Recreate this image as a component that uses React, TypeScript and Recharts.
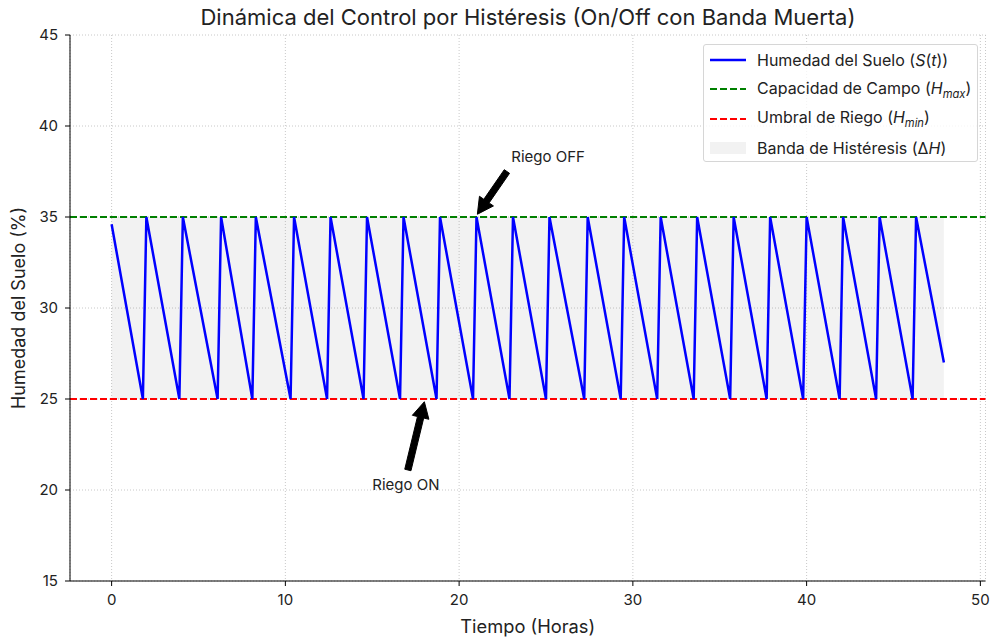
import {
  ComposedChart,
  Line,
  XAxis,
  YAxis,
  CartesianGrid,
  ReferenceLine,
  ReferenceArea,
  ReferenceDot,
} from 'recharts';

// vertices of the soil moisture sawtooth (hours, %)
const tiempo = [
  0, 1.8, 2.0, 3.9, 4.1, 6.1, 6.3, 8.1, 8.3, 10.3, 10.5, 12.4, 12.6, 14.5, 14.7,
  16.6, 16.8, 18.7, 18.9, 20.8, 21.0, 22.9, 23.1, 25.0, 25.2, 27.2, 27.4, 29.3,
  29.5, 31.4, 31.6, 33.5, 33.7, 35.6, 35.8, 37.7, 37.9, 39.8, 40.0, 41.9, 42.1,
  44.0, 44.2, 46.1, 46.3, 47.9,
];
const humedad = [
  34.6, 25, 35, 25, 35, 25, 35, 25, 35, 25, 35, 25, 35, 25, 35,
  25, 35, 25, 35, 25, 35, 25, 35, 25, 35, 25, 35, 25,
  35, 25, 35, 25, 35, 25, 35, 25, 35, 25, 35, 25, 35,
  25, 35, 25, 35, 27.0,
];

const H_MAX = 35;
const H_MIN = 25;
const T_END = 47.9;

const xTicks = [0, 10, 20, 30, 40, 50];
const yTicks = [15, 20, 25, 30, 35, 40, 45];

// annotations: text anchor and arrow [tail, tip] in data coords
const textoOff = { x: 23, y: 38, text: 'Riego OFF' };
const textoOn = { x: 15, y: 20, text: 'Riego ON' };
const flechaOff = [{ x: 22.75, y: 37.5 }, { x: 21.05, y: 35.15 }];
const flechaOn = [{ x: 17.05, y: 21.1 }, { x: 18.0, y: 24.85 }];

const data = tiempo.map((t, i) => ({ t, s: humedad[i] }));

const FONT = 'Inter, "Noto Sans", sans-serif';
const TXT = '#222';

const Arrow = (props: any) => {
  const { x1, y1, x2, y2 } = props;
  const dx = x2 - x1;
  const dy = y2 - y1;
  const len = Math.sqrt(dx * dx + dy * dy);
  const ux = dx / len;
  const uy = dy / len;
  const px = -uy;
  const py = ux;
  const shaft = 3.2;
  const head = 8.5;
  const headLen = 16;
  const bx = x2 - ux * headLen;
  const by = y2 - uy * headLen;
  const pts = [
    [x1 + px * shaft, y1 + py * shaft],
    [bx + px * shaft, by + py * shaft],
    [bx + px * head, by + py * head],
    [x2, y2],
    [bx - px * head, by - py * head],
    [bx - px * shaft, by - py * shaft],
    [x1 - px * shaft, y1 - py * shaft],
  ]
    .map((p) => p.join(','))
    .join(' ');
  return <polygon points={pts} fill="#000" stroke="#000" strokeWidth={1} />;
};

const noteShape = (text: string) => (p: any) => (
  <text x={p.cx} y={p.cy} fill={TXT} fontSize={15} fontFamily={FONT}>
    {text}
  </text>
);

const legendItems = [
  { key: 'line', color: '#0000ff', dash: false, text: <>Humedad del Suelo (<i>S</i>(<i>t</i>))</> },
  { key: 'max', color: '#008000', dash: true, text: <>Capacidad de Campo (<i>H</i><sub style={{ fontSize: '0.7em' }}><i>max</i></sub>)</> },
  { key: 'min', color: '#ff0000', dash: true, text: <>Umbral de Riego (<i>H</i><sub style={{ fontSize: '0.7em' }}><i>min</i></sub>)</> },
  { key: 'band', color: '', dash: false, text: <>Banda de Histéresis (Δ<i>H</i>)</> },
];

const LegendBox = () => (
  <div
    style={{
      position: 'absolute',
      left: 703,
      top: 44,
      width: 275,
      height: 118,
      boxSizing: 'border-box',
      border: '1px solid #d6d6d6',
      borderRadius: 3,
      background: 'rgba(255,255,255,0.8)',
      padding: '0 0 0 4px',
      fontFamily: FONT,
      fontSize: 16,
      color: TXT,
    }}
  >
    {legendItems.map((it) => (
      <div key={it.key} style={{ display: 'flex', alignItems: 'center', height: 29.5 }}>
        <svg width={40} height={14} style={{ marginRight: 9, flex: 'none' }}>
          {it.key === 'band' ? (
            <rect x={2} y={1} width={36} height={12} fill="#808080" fillOpacity={0.1} />
          ) : (
            <line
              x1={2}
              y1={7}
              x2={38}
              y2={7}
              stroke={it.color}
              strokeWidth={it.dash ? 2 : 2.5}
              strokeDasharray={it.dash ? '7 3' : undefined}
            />
          )}
        </svg>
        <span style={{ whiteSpace: 'nowrap' }}>{it.text}</span>
      </div>
    ))}
  </div>
);

export default function App() {
  return (
    <div style={{ position: 'absolute', left: 0, top: 0, width: 991, height: 640, background: '#fff' }}>
      <ComposedChart
        width={991}
        height={640}
        data={data}
        margin={{ top: 35, right: 5.5, bottom: 0, left: 0 }}
        style={{ fontFamily: FONT }}
      >
        <CartesianGrid stroke="#b0b0b0" strokeOpacity={0.7} strokeDasharray="1 2" />
        <ReferenceArea
          x1={0}
          x2={T_END}
          y1={H_MIN}
          y2={H_MAX}
          fill="#808080"
          fillOpacity={0.1}
          stroke="none"
        />
        <XAxis
          dataKey="t"
          type="number"
          domain={[-2.395, 50.295]}
          ticks={xTicks}
          allowDataOverflow
          height={59}
          tickSize={5}
          tickMargin={8}
          stroke="#000"
          tick={{ fill: TXT, fontSize: 15 }}
          label={{ value: 'Tiempo (Horas)', position: 'insideBottom', offset: 7, fill: TXT, fontSize: 18.3 }}
        />
        <XAxis xAxisId="top" orientation="top" type="number" domain={[-2.395, 50.295]} height={0} tick={false} tickLine={false} stroke="#000" />
        <YAxis
          type="number"
          domain={[15, 45]}
          ticks={yTicks}
          allowDataOverflow
          width={70}
          tickSize={5}
          tickMargin={7}
          stroke="#000"
          tick={{ fill: TXT, fontSize: 15 }}
          label={{
            value: 'Humedad del Suelo (%)',
            angle: -90,
            position: 'insideLeft',
            offset: 19,
            style: { textAnchor: 'middle' },
            fill: TXT,
            fontSize: 18,
          }}
        />
        <YAxis yAxisId="right" orientation="right" domain={[15, 45]} width={0} tick={false} tickLine={false} stroke="#000" />
        <ReferenceLine y={H_MAX} stroke="#008000" strokeWidth={2} strokeDasharray="7 3" />
        <ReferenceLine y={H_MIN} stroke="#ff0000" strokeWidth={2} strokeDasharray="7 3" />
        <Line
          dataKey="s"
          type="linear"
          stroke="#0000ff"
          strokeWidth={2.5}
          dot={false}
          activeDot={false}
          isAnimationActive={false}
        />
        <ReferenceLine segment={flechaOff} shape={Arrow} ifOverflow="visible" />
        <ReferenceLine segment={flechaOn} shape={Arrow} ifOverflow="visible" />
        <ReferenceDot x={textoOff.x} y={textoOff.y} shape={noteShape(textoOff.text)} ifOverflow="visible" />
        <ReferenceDot x={textoOn.x} y={textoOn.y} shape={noteShape(textoOn.text)} ifOverflow="visible" />
      </ComposedChart>
      <div
        style={{
          position: 'absolute',
          left: 0,
          top: 4,
          width: 1056,
          textAlign: 'center',
          fontFamily: FONT,
          fontSize: 22,
          color: TXT,
          pointerEvents: 'none',
        }}
      >
        Dinámica del Control por Histéresis (On/Off con Banda Muerta)
      </div>
      <LegendBox />
    </div>
  );
}
